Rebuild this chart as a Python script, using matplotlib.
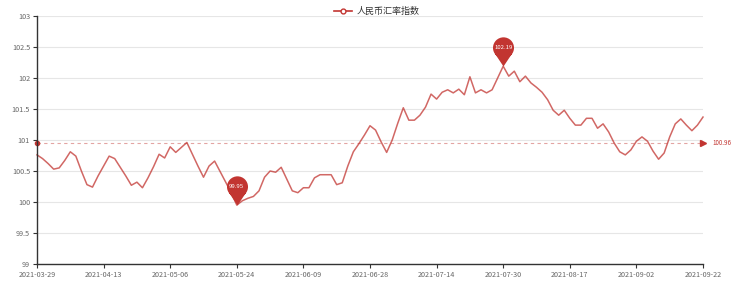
import numpy as np
import matplotlib
matplotlib.use('Agg')
import matplotlib.pyplot as plt
from matplotlib.path import Path

plt.rcParams['font.family'] = ['Noto Sans CJK SC', 'DejaVu Sans']

# Index values, one per day
values = [
    100.76, 100.70, 100.62, 100.53, 100.55, 100.67, 100.81, 100.74, 100.50, 100.28,
    100.24, 100.42, 100.58, 100.74, 100.70, 100.56, 100.42, 100.27, 100.32, 100.23,
    100.39, 100.57, 100.77, 100.71, 100.89, 100.80, 100.88, 100.96, 100.77, 100.58,
    100.40, 100.58, 100.66, 100.49, 100.32, 100.15, 99.95, 100.02, 100.06, 100.09,
    100.18, 100.40, 100.50, 100.48, 100.56, 100.37, 100.18, 100.15, 100.23, 100.23,
    100.39, 100.44, 100.44, 100.44, 100.28, 100.31, 100.58, 100.81, 100.94, 101.08,
    101.23, 101.16, 100.97, 100.80, 101.00, 101.27, 101.52, 101.32, 101.32, 101.40,
    101.53, 101.74, 101.66, 101.77, 101.81, 101.76, 101.82, 101.73, 102.02, 101.76,
    101.81, 101.76, 101.81, 102.00, 102.19, 102.03, 102.11, 101.94, 102.03, 101.92,
    101.85, 101.77, 101.65, 101.48, 101.40, 101.48, 101.35, 101.24, 101.24, 101.35,
    101.35, 101.19, 101.26, 101.13, 100.95, 100.81, 100.76, 100.84, 100.98, 101.05,
    100.98, 100.82, 100.69, 100.79, 101.05, 101.26, 101.34, 101.24, 101.15, 101.24,
    101.37,
]
# x-axis labels shown every 12 points
tick_labels = ['2021-03-29', '2021-04-13', '2021-05-06', '2021-05-24', '2021-06-09',
               '2021-06-28', '2021-07-14', '2021-07-30', '2021-08-17', '2021-09-02',
               '2021-09-22']
tick_step = 12
series_name = '人民币汇率指数'

line_color = '#c23531'
x = np.arange(len(values))
avg = np.mean(values)
imax = int(np.argmax(values))
imin = int(np.argmin(values))

fig = plt.figure(figsize=(7.33, 2.83), dpi=100)
ax = fig.add_axes([37/733, 1 - 264/283, 666/733, 248/283])

ax.set_xlim(0, len(values) - 1)
ax.set_ylim(99, 103)
ax.set_yticks(np.arange(99, 103.01, 0.5))
ax.set_yticklabels(['99', '99.5', '100', '100.5', '101', '101.5', '102', '102.5', '103'])
ax.set_xticks(np.arange(0, len(values), tick_step))
ax.set_xticklabels(tick_labels)
ax.grid(True, axis='y', color='#e6e6e6', linewidth=0.8)
ax.set_axisbelow(True)
for side in ['top', 'right']:
    ax.spines[side].set_visible(False)
for side in ['left', 'bottom']:
    ax.spines[side].set_color('#333333')
    ax.spines[side].set_linewidth(1.0)
ax.tick_params(axis='both', colors='#333333', labelcolor='#666666',
               labelsize=5.2, length=3, width=0.8, pad=2)

ax.plot(x, values, color=line_color, linewidth=1.1, alpha=0.75, clip_on=False)

# average mark line
ax.plot([0, len(values) - 1], [avg, avg], color=line_color, linewidth=0.8,
        linestyle=(0, (3, 3)), alpha=0.45, clip_on=False)
ax.plot([0], [avg], 'o', color=line_color, ms=3, clip_on=False)
ax.plot([len(values) - 1], [avg], '>', color=line_color, ms=4, clip_on=False)
ax.annotate('%.2f' % avg, (len(values) - 1, avg), xytext=(7, 0),
            textcoords='offset points', va='center', ha='left',
            fontsize=4.5, color=line_color, annotation_clip=False)

# pin shaped markers for max and min
circ = Path.circle(center=(0, 1.1), radius=0.62)
tri = Path([(-0.5, 0.75), (0, 0), (0.5, 0.75), (-0.5, 0.75)],
           [Path.MOVETO, Path.LINETO, Path.LINETO, Path.CLOSEPOLY])
pin = Path.make_compound_path(circ, tri)
for i in [imax, imin]:
    ax.plot(i, values[i], marker=pin, ms=42, color=line_color, mec='none',
            clip_on=False, zorder=5)
    ax.annotate('%.2f' % values[i], (i, values[i]), xytext=(0, 13.5),
                textcoords='offset points', ha='center', va='center',
                fontsize=4.3, color='white', zorder=6, annotation_clip=False)

# legend at top centre
leg = ax.legend([plt.Line2D([], [], color=line_color, marker='o', ms=3.5,
                            mfc='white', mec=line_color, lw=1.2)],
                [series_name], loc='lower center', bbox_to_anchor=(0.51, 0.985),
                frameon=False, fontsize=6.5, handlelength=2.0, handletextpad=0.5,
                borderaxespad=0)
for t in leg.get_texts():
    t.set_color('#333333')

fig.savefig('out.png', dpi=100)
